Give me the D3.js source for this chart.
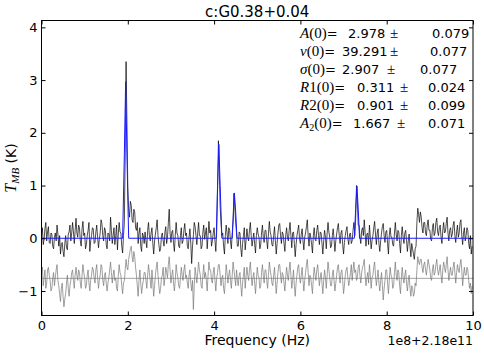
<!DOCTYPE html>
<html>
<head>
<meta charset="utf-8">
<script src="https://cdn.jsdelivr.net/npm/d3@7"></script>
<style>
  body { margin: 0; background: #fff; }
  text { font-family: "DejaVu Sans", sans-serif; fill: #000; }
  .math { font-family: "Liberation Serif", serif; }
</style>
</head>
<body>
<svg id="chart" width="484" height="353"></svg>
<script>
// channel grid (offset frequency, units of 1e8 Hz)
const freqStart = 0;
const freqStep = 0.02;

// observed spectrum, T_MB (K), one value per channel
const spectrum = [
  0.05,0.2,-0.12,-0.02,0.18,0.3,-0.05,0.12,0.22,-0.08,-0.1,0.1,0.08,-0.15,-0.2,0.02,0.1,-0.05,0.25,0.08,
  -0.15,0.05,-0.3,-0.12,-0.08,-0.25,-0.35,-0.1,0.05,-0.18,-0.22,0.08,0.12,0.25,-0.05,0.1,0.3,0.12,-0.1,0.15,
  0.38,0.1,0.02,0.25,0.2,-0.05,-0.15,0.18,0.32,0.05,0.1,-0.2,-0.12,0.05,0.15,0.3,-0.25,-0.05,0.05,0.2,
  0.18,-0.1,-0.08,0.12,0.25,0.02,-0.18,-0.02,0.1,0.35,0.28,0.05,-0.05,0.2,0.15,-0.12,-0.2,0.1,0.08,-0.05,
  0.4,0.15,-0.1,0.05,0.2,-0.12,0.05,0.25,-0.22,0.08,0.3,0.12,0.1,-0.15,-0.28,0.05,0.3,1.6,3.35,2.2,
  0.95,0.55,0.4,0.7,0.62,0.35,0.3,0.55,0.5,0.2,0.15,0.3,-0.1,0.1,0.2,-0.15,-0.25,0.1,0.05,-0.1,
  0.12,-0.05,-0.18,0.15,0.3,0.05,-0.05,0.1,0.2,-0.1,-0.3,-0.05,0.08,0.2,0.35,0.05,-0.12,-0.25,-0.2,0.05,
  0.1,-0.05,-0.15,0.12,0.22,-0.1,0.02,0.3,0.55,0.1,-0.08,0.12,0.15,-0.1,-0.25,0.05,0.3,0.1,0.05,-0.15,
  -0.18,0.05,0.2,-0.1,-0.05,0.15,0.28,0.05,0.1,-0.15,-0.2,0.02,0.18,-0.1,-0.48,-0.15,0.05,0.3,0.22,0.05,
  -0.12,0.1,0.3,0.05,0.05,-0.2,-0.15,0.12,0.25,-0.02,0.1,0.2,-0.2,0.05,0.32,0.1,0.15,-0.15,-0.05,0.1,
  0.2,-0.05,-0.25,0.15,0.9,1.85,1.3,0.6,0.3,0.05,0.1,-0.15,-0.3,0.05,0.25,0.1,-0.1,0.2,0.15,-0.05,
  -0.2,0.1,0.35,0.85,0.6,0.3,0.1,-0.15,-0.15,0.12,0.1,-0.2,-0.35,-0.1,0.05,0.2,-0.22,-0.05,0.18,0.02,
  -0.05,0.15,0.3,0.05,-0.15,-0.02,0.1,-0.12,-0.28,0.05,0.2,0.08,0.02,-0.2,-0.12,0.1,0.25,0.02,-0.08,0.15,
  0.15,-0.05,-0.2,0.1,0.32,0.12,0.05,-0.12,-0.15,0.05,0.22,-0.05,-0.3,-0.1,0.1,0.25,0.28,0.05,-0.1,0.12,
  0.08,-0.1,-0.25,0.05,0.2,0.02,-0.05,0.15,0.3,0.05,-0.18,0.1,0.12,-0.1,-0.35,-0.12,0.05,0.15,0.25,-0.02,
  -0.1,0.08,0.18,-0.05,-0.22,0.02,0.1,0.22,0.35,0.05,-0.15,0.1,0.02,-0.12,-0.28,0.05,0.2,-0.02,-0.05,0.15,
  0.25,0.05,-0.12,0.12,0.1,-0.1,-0.3,-0.05,0.15,0.02,-0.2,0.1,0.3,0.12,0.02,-0.18,-0.15,0.05,0.18,-0.02,
  -0.25,-0.05,0.08,0.2,0.28,0.05,-0.1,0.1,0.15,-0.12,-0.3,-0.08,0.05,0.15,0.22,-0.02,-0.12,0.08,0.1,-0.1,
  -0.05,0.15,0.3,0.05,0.35,1.0,0.7,0.25,0.25,0.02,-0.1,0.15,0.2,0.05,0.35,0.1,-0.15,0.08,0.1,-0.12,
  0.25,0.02,-0.2,-0.05,0.05,0.2,0.32,0.08,-0.12,0.1,0.18,-0.1,-0.25,-0.05,0.1,0.22,0.28,0.05,-0.08,0.12,
  0.15,-0.1,-0.3,0.05,0.2,0.02,0.02,-0.12,-0.15,0.1,0.3,0.08,-0.05,0.15,0.12,-0.1,-0.28,0.05,0.22,0.02,
  -0.1,0.1,0.15,-0.05,-0.25,-0.05,0.08,-0.15,-0.35,-0.1,-0.2,-0.3,-0.4,-0.2,-0.15,0.3,0.57,0.45,0.3,0.5,
  0.4,0.2,0.1,0.3,0.3,0.1,0.05,0.25,0.35,0.15,0.15,-0.02,-0.05,0.2,0.28,0.05,0.1,0.3,0.38,0.12,
  0.05,0.2,0.25,0.02,-0.1,0.15,0.3,0.1,0.12,0.28,0.4,0.1,-0.05,0.15,0.2,0.02,0.08,0.25,0.32,0.05,
  -0.08,0.12,0.25,0.02,0.1,0.3,0.35,0.05,-0.12,0.1,0.2,-0.05,0.05,0.2,0.15,-0.1,-0.2,0.05,-0.3,-0.15
];

// residual, drawn shifted below the spectrum
const residual = [
  -0.7,-0.55,-0.9,-0.75,-0.6,-0.95,-0.85,-0.6,-0.55,-0.7,-0.8,-1.0,-0.95,-0.75,-0.65,-0.9,-0.75,-0.6,-0.5,-0.8,
  -0.9,-1.05,-1.2,-0.95,-0.85,-1.1,-1.3,-1.15,-1.05,-0.85,-0.7,-0.95,-1.1,-0.9,-0.8,-0.65,-0.6,-0.8,-0.95,-0.7,
  -0.55,-0.7,-0.8,-0.6,-0.65,-0.85,-0.95,-0.7,-0.5,-0.65,-0.75,-0.95,-0.9,-0.7,-0.6,-0.85,-1.0,-0.8,-0.7,-0.55,
  -0.6,-0.75,-0.85,-0.6,-0.5,-0.75,-0.95,-0.8,-0.7,-0.5,-0.55,-0.8,-0.9,-0.7,-0.65,-0.85,-1.0,-0.85,-0.75,-0.6,
  -0.45,-0.65,-0.85,-0.7,-0.6,-0.8,-0.75,-0.95,-1.0,-0.7,-0.5,-0.65,-0.7,-0.9,-1.05,-0.85,-0.8,-0.6,-0.4,-0.55,
  -0.6,-0.4,-0.3,-0.2,-0.15,-0.35,-0.45,-0.25,-0.35,-0.55,-0.7,-0.9,-1.1,-0.8,-0.6,-0.85,-1.05,-0.9,-0.8,-0.65,
  -0.65,-0.8,-0.95,-0.7,-0.5,-0.65,-0.8,-0.95,-0.6,-0.85,-1.1,-0.9,-0.7,-0.55,-0.45,-0.7,-0.9,-1.05,-0.95,-0.75,
  -0.7,-0.55,-0.9,-0.75,-0.55,-0.65,-0.75,-0.5,-0.35,-0.6,-0.85,-0.7,-0.6,-0.85,-1.0,-0.8,-0.5,-0.65,-0.75,-0.9,
  -0.95,-0.75,-0.55,-0.7,-0.8,-0.6,-0.5,-0.75,-0.7,-0.85,-0.95,-0.7,-0.6,-0.85,-1.0,-0.8,-1.35,-0.9,-0.55,-0.7,
  -0.85,-0.65,-0.45,-0.6,-0.7,-0.9,-0.95,-0.7,-0.5,-0.75,-0.65,-0.8,-1.0,-0.7,-0.45,-0.6,-0.6,-0.8,-0.85,-0.65,
  -0.55,-0.8,-1.0,-0.75,-0.65,-0.5,-0.5,-0.7,-0.9,-0.75,-0.7,-0.95,-1.05,-0.8,-0.5,-0.65,-0.85,-0.7,-0.6,-0.8,
  -0.95,-0.7,-0.45,-0.6,-0.75,-0.9,-0.6,-0.8,-0.9,-0.7,-0.65,-0.9,-1.1,-0.85,-0.7,-0.55,-0.95,-0.75,-0.55,-0.7,
  -0.8,-0.6,-0.45,-0.7,-0.9,-0.75,-0.65,-0.85,-1.05,-0.8,-0.55,-0.7,-0.75,-0.95,-0.9,-0.65,-0.5,-0.7,-0.85,-0.6,
  -0.6,-0.8,-0.95,-0.7,-0.45,-0.6,-0.7,-0.85,-0.9,-0.7,-0.55,-0.8,-1.05,-0.85,-0.65,-0.5,-0.5,-0.7,-0.85,-0.65,
  -0.7,-0.85,-1.0,-0.75,-0.55,-0.7,-0.8,-0.6,-0.45,-0.7,-0.95,-0.8,-0.6,-0.9,-1.1,-0.85,-0.7,-0.55,-0.5,-0.75,
  -0.85,-0.7,-0.55,-0.8,-1.0,-0.8,-0.65,-0.5,-0.4,-0.65,-0.9,-0.7,-0.75,-0.9,-1.05,-0.75,-0.55,-0.7,-0.8,-0.6,
  -0.5,-0.7,-0.9,-0.75,-0.65,-0.85,-1.05,-0.8,-0.6,-0.75,-0.95,-0.7,-0.45,-0.6,-0.75,-0.9,-0.9,-0.7,-0.6,-0.8,
  -1.0,-0.85,-0.7,-0.55,-0.5,-0.7,-0.85,-0.65,-0.6,-0.8,-1.05,-0.9,-0.7,-0.6,-0.55,-0.75,-0.9,-0.8,-0.65,-0.5,
  -0.8,-0.6,-0.45,-0.65,-0.6,-0.8,-0.75,-0.55,-0.5,-0.7,-0.85,-0.65,-0.55,-0.5,-0.4,-0.7,-0.9,-0.75,-0.65,-0.85,
  -0.5,-0.7,-0.95,-0.75,-0.7,-0.55,-0.45,-0.7,-0.9,-0.75,-0.6,-0.85,-1.0,-0.8,-0.65,-0.9,-1.17,-0.95,-0.8,-0.6,
  -0.6,-0.85,-1.05,-0.8,-0.55,-0.7,-0.75,-0.95,-0.9,-0.65,-0.45,-0.7,-0.8,-0.6,-0.65,-0.9,-1.05,-0.75,-0.55,-0.75,
  -0.85,-0.7,-0.6,-0.85,-1.0,-0.8,-0.7,-0.95,-1.1,-0.9,-0.95,-1.1,-1.05,-0.85,-0.9,-0.6,-0.35,-0.45,-0.5,-0.4,
  -0.4,-0.55,-0.65,-0.5,-0.45,-0.6,-0.7,-0.55,-0.4,-0.5,-0.6,-0.75,-0.8,-0.6,-0.5,-0.7,-0.65,-0.5,-0.4,-0.6,
  -0.7,-0.6,-0.5,-0.7,-0.85,-0.6,-0.45,-0.55,-0.65,-0.5,-0.35,-0.6,-0.8,-0.65,-0.55,-0.7,-0.7,-0.55,-0.45,-0.65,
  -0.85,-0.65,-0.5,-0.6,-0.65,-0.5,-0.4,-0.6,-0.9,-0.7,-0.55,-0.7,-0.7,-0.55,-0.6,-0.8,-0.95,-0.85,-1.05,-0.9
];
const residualZero = -0.76;

// fitted model, read as [freq, T] breakpoints
const fitFreq = [0, 1.88, 1.92, 1.95, 1.98, 2.02, 4.05, 4.08, 4.11, 4.14, 4.18,
  4.42, 4.45, 4.47, 4.50, 4.53, 7.25, 7.28, 7.31, 7.34, 7.37, 10];
const fitT = [0, 0, 1.6, 2.97, 1.6, 0, 0, 1.0, 1.78, 1.0, 0,
  0, 0.5, 0.86, 0.5, 0, 0, 0.55, 0.99, 0.55, 0, 0];

const xTicks = [0, 2, 4, 6, 8, 10];
const yTicks = [-1, 0, 1, 2, 3, 4];

const title = "c:G0.38+0.04";
const xLabel = "Frequency (Hz)";
const offsetLabel = "1e8+2.18e11";

// fit parameters
const paramSym = ["A", "v", "σ", "R", "R", "A"];
const paramIdx = ["", "", "", "1", "2", "2"];
const paramSub = [false, false, false, false, false, true];
const paramVal = ["2.978", "39.291", "2.907", "0.311", "0.901", "1.667"];
const paramErr = ["0.079", "0.077", "0.077", "0.024", "0.099", "0.071"];

function drawchart() {
  const svg = d3.select("#chart");
  const margin = {top: 20.5, right: 11, bottom: 37.5, left: 41.5};
  const width = 484 - margin.left - margin.right;
  const height = 353 - margin.top - margin.bottom;

  const g = svg.append("g").attr("transform", `translate(${margin.left},${margin.top})`);

  const x = d3.scaleLinear().domain([0, 10]).range([0, width]);
  const y = d3.scaleLinear().domain([-1.465, 4.13]).range([height, 0]);

  g.append("clipPath").attr("id", "clip")
    .append("rect").attr("width", width).attr("height", height);

  const plot = g.append("g").attr("clip-path", "url(#clip)");

  const line = d3.line()
      .x((d, i) => x(freqStart + i * freqStep))
      .y((d) => y(d));

  // residual zero line
  plot.append("line")
      .attr("x1", x(0)).attr("x2", x(10))
      .attr("y1", y(residualZero)).attr("y2", y(residualZero))
      .attr("stroke", "#666").attr("stroke-width", 0.6);

  plot.append("path")
      .datum(residual)
      .attr("d", line)
      .attr("fill", "none")
      .attr("stroke", "#777")
      .attr("stroke-width", 0.7);

  plot.append("path")
      .datum(spectrum)
      .attr("d", line)
      .attr("fill", "none")
      .attr("stroke", "#000")
      .attr("stroke-width", 0.7);

  plot.append("path")
      .datum(fitFreq.map((f, i) => [f, fitT[i]]))
      .attr("d", d3.line().x((d) => x(d[0])).y((d) => y(d[1])))
      .attr("fill", "none")
      .attr("stroke", "#1a1aff")
      .attr("stroke-width", 1);

  // axes, ticks pointing inwards on all four sides
  const styleAxis = (sel) => {
    sel.select(".domain").remove();
    sel.selectAll("line").attr("stroke", "#000");
    sel.selectAll("text").style("font-size", "13px").attr("fill", "#000");
  };

  g.append("g")
      .attr("transform", `translate(0,${height})`)
      .call(d3.axisBottom(x).tickValues(xTicks).tickSizeInner(-4).tickSizeOuter(0).tickPadding(5))
      .call(styleAxis);
  g.append("g")
      .call(d3.axisTop(x).tickValues(xTicks).tickSizeInner(-4).tickSizeOuter(0).tickFormat(""))
      .call(styleAxis);
  g.append("g")
      .call(d3.axisLeft(y).tickValues(yTicks).tickFormat(d3.format("d"))
        .tickSizeInner(-4).tickSizeOuter(0).tickPadding(4))
      .call(styleAxis);
  g.append("g")
      .attr("transform", `translate(${width},0)`)
      .call(d3.axisRight(y).tickValues(yTicks).tickSizeInner(-4).tickSizeOuter(0).tickFormat(""))
      .call(styleAxis);

  g.append("rect")
      .attr("width", width).attr("height", height)
      .attr("fill", "none").attr("stroke", "#000").attr("stroke-width", 1);

  // labels
  svg.append("text")
      .attr("x", margin.left + width / 2).attr("y", 17)
      .attr("text-anchor", "middle").style("font-size", "15px")
      .text(title);

  svg.append("text")
      .attr("x", margin.left + width / 2).attr("y", 345)
      .attr("text-anchor", "middle").style("font-size", "14px")
      .text(xLabel);

  svg.append("text")
      .attr("x", margin.left + width).attr("y", 345)
      .attr("text-anchor", "end").style("font-size", "12.5px")
      .text(offsetLabel);

  const yl = svg.append("text")
      .attr("transform", `translate(16,${margin.top + height / 2}) rotate(-90)`)
      .attr("text-anchor", "middle").style("font-size", "14px");
  yl.append("tspan").attr("class", "math").style("font-style", "italic")
      .style("font-size", "16px").text("T");
  yl.append("tspan").attr("class", "math").style("font-style", "italic")
      .style("font-size", "11px").attr("dy", 3).text("MB");
  yl.append("tspan").attr("dy", -3).text(" (K)");

  // fit parameter box
  const valX = [348, 342, 342, 357, 357, 353];
  const pmX = [390, 390, 387, 400, 400, 397];
  const errX = [432, 430, 420, 428, 428, 428];

  paramSym.forEach((s, i) => {
    const row = svg.append("g").attr("transform", `translate(0,${38 + i * 18})`);
    const lab = row.append("text").attr("x", 300).style("font-size", "13px");
    lab.append("tspan").attr("class", "math").style("font-style", "italic")
        .style("font-size", "15px").text(s);
    if (paramSub[i]) {
      lab.append("tspan").attr("class", "math").style("font-size", "10px")
          .attr("dy", 3).text(paramIdx[i]);
      lab.append("tspan").attr("class", "math").style("font-size", "15px")
          .attr("dy", -3).text("(0)");
    } else {
      lab.append("tspan").attr("class", "math").style("font-size", "15px")
          .text(paramIdx[i] + "(0)");
    }
    lab.append("tspan").text("=");
    row.append("text").attr("x", valX[i]).style("font-size", "13px").text(paramVal[i]);
    row.append("text").attr("x", pmX[i]).attr("class", "math").style("font-size", "15px").text("±");
    row.append("text").attr("x", errX[i]).style("font-size", "13px").text(paramErr[i]);
  });
}

drawchart();
</script>
</body>
</html>
